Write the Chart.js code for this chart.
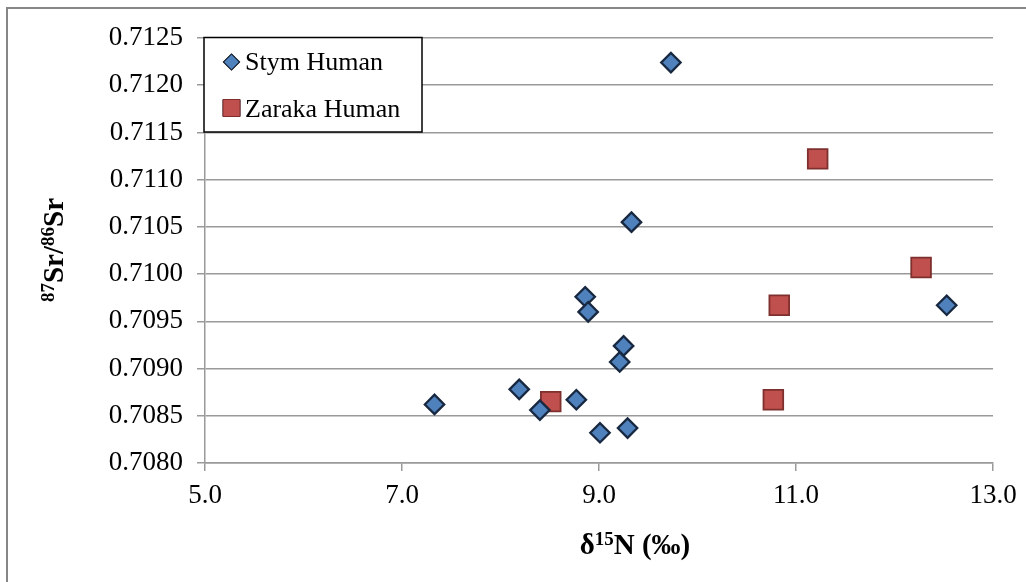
<!DOCTYPE html>
<html>
<head>
<meta charset="utf-8">
<script src="https://cdn.jsdelivr.net/npm/chart.js@4.4.1/dist/chart.umd.min.js"></script>
<style>
  html, body { margin: 0; padding: 0; background: #ffffff; }
  #wrap { width: 1026px; height: 582px; position: relative; }
</style>
</head>
<body>
<div id="wrap"><canvas id="c" width="1026" height="582"></canvas></div>
<script>
// δ15N (‰) and 87Sr/86Sr per individual
const stymN  = [7.33, 8.19, 8.40, 8.77, 8.86, 8.89, 9.01, 9.21, 9.25, 9.29, 9.33, 9.73, 12.53];
const stymSr = [0.70862, 0.70878, 0.70856, 0.70867, 0.70976, 0.70960, 0.70832, 0.70907, 0.70924, 0.70837, 0.71055, 0.71224, 0.70967];

const zarakaN  = [8.51, 10.77, 10.83, 11.22, 12.27];
const zarakaSr = [0.70865, 0.70867, 0.70967, 0.71122, 0.71007];

const seriesNames = ['Stym Human', 'Zaraka Human'];

const xTicks = [5.0, 7.0, 9.0, 11.0, 13.0];
const yTicks = [0.7080, 0.7085, 0.7090, 0.7095, 0.7100, 0.7105, 0.7110, 0.7115, 0.7120, 0.7125];

const SERIF = "'Liberation Serif', 'Times New Roman', serif";
const GRID = '#9a9a9a';

const toPoints = (xs, ys) => xs.map((x, i) => ({ x: x, y: ys[i] }));

// Outer frame of the chart object
const framePlugin = {
  id: 'frame',
  afterDraw(chart) {
    const ctx = chart.ctx;
    ctx.save();
    ctx.strokeStyle = '#868686';
    ctx.lineWidth = 2;
    ctx.strokeRect(7, 8, 1200, 800);
    ctx.restore();
  }
};

// Draws a run of text pieces, some raised as superscripts
function drawRuns(ctx, runs, size, startX, baseY) {
  let x = startX;
  runs.forEach(r => {
    const fs = r.sup ? Math.round(size * 0.66) : size;
    ctx.font = 'bold ' + fs + 'px ' + SERIF;
    ctx.fillText(r.t, x, baseY - (r.sup ? size * 0.30 : 0));
    x += ctx.measureText(r.t).width;
  });
}
function runsWidth(ctx, runs, size) {
  let w = 0;
  runs.forEach(r => {
    const fs = r.sup ? Math.round(size * 0.66) : size;
    ctx.font = 'bold ' + fs + 'px ' + SERIF;
    w += ctx.measureText(r.t).width;
  });
  return w;
}

// Axis titles with isotope superscripts
const titlesPlugin = {
  id: 'isoTitles',
  afterDraw(chart) {
    const ctx = chart.ctx;
    const size = 29;
    ctx.save();
    ctx.fillStyle = '#000';
    ctx.textBaseline = 'alphabetic';
    ctx.textAlign = 'left';

    const xRuns = [{ t: 'δ' }, { t: '15', sup: true }, { t: 'N (‰)' }];
    const xw = runsWidth(ctx, xRuns, size);
    drawRuns(ctx, xRuns, size, 635 - xw / 2, 554);

    const yRuns = [{ t: '87', sup: true }, { t: 'Sr/' }, { t: '86', sup: true }, { t: 'Sr' }];
    const yw = runsWidth(ctx, yRuns, size);
    ctx.translate(63, 250);
    ctx.rotate(-Math.PI / 2);
    drawRuns(ctx, yRuns, size, -yw / 2, 0);
    ctx.restore();
  }
};

// Boxed legend in the upper-left of the plot
const boxLegendPlugin = {
  id: 'boxLegend',
  afterDatasetsDraw(chart) {
    const ctx = chart.ctx;
    ctx.save();
    ctx.fillStyle = '#ffffff';
    ctx.fillRect(204, 37.5, 218, 94.5);
    ctx.strokeStyle = '#000000';
    ctx.lineWidth = 1.5;
    ctx.strokeRect(204, 37.5, 218, 94.5);

    const rows = [
      { y: 62, base: 70, radius: 7.8 },
      { y: 108, base: 116.5, radius: 12 }
    ];
    chart.data.datasets.forEach((ds, i) => {
      const r = rows[i];
      Chart.helpers.drawPoint(ctx, {
        pointStyle: ds.pointStyle,
        radius: r.radius,
        borderWidth: 1,
        rotation: 0
      }, 231.5, r.y);
      ctx.fillStyle = ds.backgroundColor;
      ctx.strokeStyle = ds.borderColor;
      ctx.lineWidth = 1;
      ctx.fill();
      ctx.stroke();
      ctx.fillStyle = '#000';
      ctx.font = '26px ' + SERIF;
      ctx.textAlign = 'left';
      ctx.textBaseline = 'alphabetic';
      ctx.fillText(ds.label, 245, r.base);
    });
    ctx.restore();
  }
};

new Chart(document.getElementById('c'), {
  type: 'scatter',
  data: {
    datasets: [
      {
        label: seriesNames[0],
        data: toPoints(stymN, stymSr),
        pointStyle: 'rectRot',
        pointRadius: 9.7,
        pointHoverRadius: 9.7,
        backgroundColor: '#4F81BD',
        borderColor: '#172840',
        borderWidth: 2.3
      },
      {
        label: seriesNames[1],
        data: toPoints(zarakaN, zarakaSr),
        pointStyle: 'rect',
        pointRadius: 13.9,
        pointHoverRadius: 13.9,
        backgroundColor: '#C0504D',
        borderColor: '#7E302E',
        borderWidth: 1.8
      }
    ]
  },
  options: {
    responsive: false,
    animation: false,
    devicePixelRatio: 1,
    layout: { padding: { left: 0, top: 38, right: 33, bottom: 0 } },
    plugins: {
      legend: { display: false },
      tooltip: { enabled: false },
      title: { display: false }
    },
    scales: {
      x: {
        type: 'linear',
        min: xTicks[0],
        max: xTicks[xTicks.length - 1],
        afterBuildTicks(scale) { scale.ticks = xTicks.map(v => ({ value: v })); },
        afterFit(scale) { scale.height = 119; },
        grid: { drawOnChartArea: false, drawTicks: true, tickLength: 8, color: GRID, lineWidth: 1.5 },
        border: { display: true, color: GRID, width: 1.5 },
        ticks: {
          padding: 9,
          color: '#000',
          font: { family: SERIF, size: 27 },
          maxRotation: 0,
          autoSkip: false,
          callback: v => Number(v).toFixed(1)
        }
      },
      y: {
        type: 'linear',
        min: yTicks[0],
        max: yTicks[yTicks.length - 1],
        afterBuildTicks(scale) { scale.ticks = yTicks.map(v => ({ value: v })); },
        afterFit(scale) { scale.width = 205; },
        grid: { drawOnChartArea: true, drawTicks: true, tickLength: 8, color: GRID, lineWidth: 1.5 },
        border: { display: true, color: GRID, width: 1.5 },
        ticks: {
          padding: 14,
          color: '#000',
          font: { family: SERIF, size: 27 },
          autoSkip: false,
          callback: v => Number(v).toFixed(4)
        }
      }
    }
  },
  plugins: [framePlugin, titlesPlugin, boxLegendPlugin]
});
</script>
</body>
</html>
